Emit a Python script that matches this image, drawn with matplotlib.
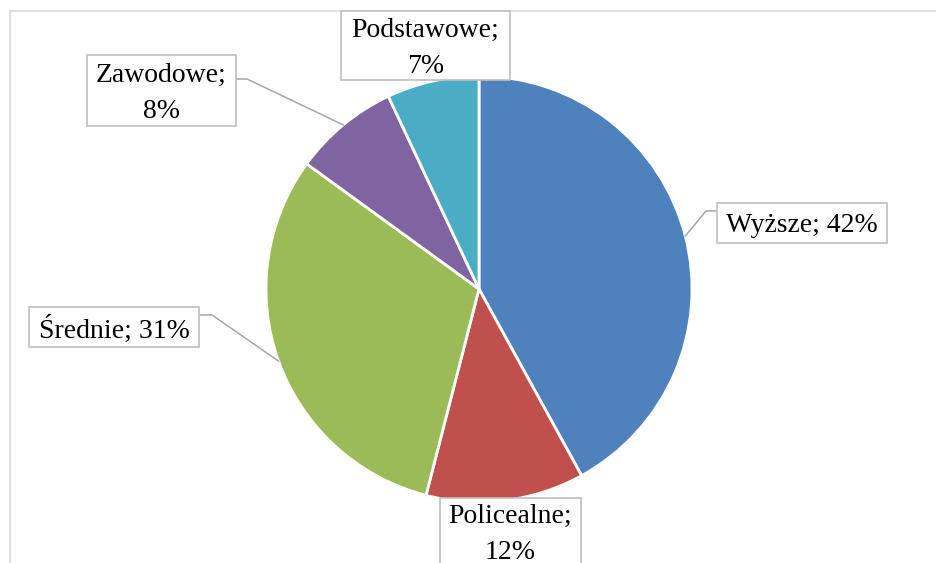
import numpy as np
import matplotlib.pyplot as plt
from matplotlib.patches import Rectangle

# dane
kategorie = ['Wyższe', 'Policealne', 'Średnie', 'Zawodowe', 'Podstawowe']
udzialy = [42, 12, 31, 8, 7]
kolory = ['#4F81BD', '#C0504D', '#9BBB59', '#8064A2', '#4BACC6']
etykiety = ['Wyższe; 42%', 'Policealne;\n12%', 'Średnie; 31%', 'Zawodowe;\n8%', 'Podstawowe;\n7%']

W, H = 936, 563
# ramki etykiet w pikselach (x0, y0, x1, y1), y liczone od góry
ramki = [(717, 203, 887, 243), (440, 498, 581, 565), (29, 307, 199, 347),
         (87, 55, 236, 126), (341, 11, 510, 80)]
# punkt przy ramce i kolano linii odniesienia (None = brak linii)
linie = [((717, 211), (706, 211)), None, ((199, 315), (212, 315)),
         ((236, 79), (247, 79)), None]

plt.rcParams['font.family'] = ['Liberation Serif', 'DejaVu Serif']

fig = plt.figure(figsize=(W / 100, H / 100), dpi=100)
ax = fig.add_axes([0, 0, 1, 1])

srodek = (479, H - 289)
promien = 213
wedges, _ = ax.pie(udzialy, colors=kolory, startangle=90, counterclock=False,
                   center=srodek, radius=promien, frame=True,
                   wedgeprops=dict(edgecolor='white', linewidth=2))

# ramka wykresu
ax.plot([9.5, W], [H - 10.5, H - 10.5], color='#D9D9D9', lw=1.2, zorder=1)
ax.plot([9.5, 9.5], [H - 10.5, 0], color='#D9D9D9', lw=1.2, zorder=1)

for w, tekst, (x0, y0, x1, y1), ln in zip(wedges, etykiety, ramki, linie):
    if ln is not None:
        kat = np.deg2rad((w.theta1 + w.theta2) / 2)
        px = srodek[0] + promien * np.cos(kat)
        py = srodek[1] + promien * np.sin(kat)
        (ax_, ay_), (ex, ey) = ln
        ax.plot([ax_, ex, px], [H - ay_, H - ey, py], color='#A6A6A6', lw=1.1,
                zorder=3, solid_joinstyle='miter')
    ax.add_patch(Rectangle((x0, H - y1), x1 - x0, y1 - y0, facecolor='white',
                           edgecolor='#BFBFBF', lw=1.2, zorder=4))
    ax.text((x0 + x1) / 2, H - (y0 + y1) / 2 - 3, tekst, ha='center', va='center',
            multialignment='center', fontsize=20, linespacing=1.55,
            color='black', zorder=5)

ax.set_xlim(0, W)
ax.set_ylim(0, H)
ax.set_axis_off()

fig.savefig('out.png', dpi=100, facecolor='white')
